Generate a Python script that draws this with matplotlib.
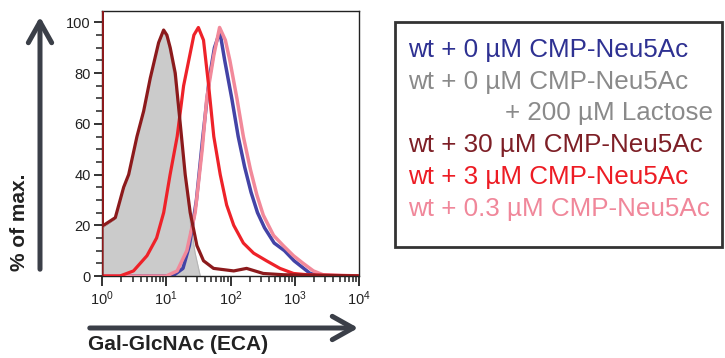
import matplotlib
matplotlib.use("Agg")
import matplotlib.pyplot as plt
import numpy as np
from matplotlib.patches import FancyArrowPatch, Rectangle
from matplotlib.ticker import MultipleLocator, LogLocator, NullFormatter

plt.rcParams["font.family"] = ["Liberation Sans", "DejaVu Sans"]

W, H = 725, 358

# ---- data: log10 intensity (x) vs % of max (y) ---------------------------
lac_x = [0.0, 0.03, 0.2, 0.34, 0.42, 0.54, 0.65, 0.75, 0.88, 0.96, 1.01,
         1.06, 1.14, 1.22, 1.30, 1.37, 1.45, 1.53]
lac_y = [19, 19, 22, 34, 40, 54, 64, 77, 91, 96, 94, 88, 76, 58, 38, 22, 9, 0]

wt0_x = [0.0, 0.9, 1.1, 1.26, 1.36, 1.47, 1.57, 1.67, 1.75, 1.83, 1.85,
         1.91, 2.02, 2.12, 2.22, 2.32, 2.42, 2.53, 2.68, 2.84, 2.99, 3.14,
         3.24, 3.45, 4.0]
wt0_y = [0, 0, 0, 3, 12, 30, 55, 78, 90, 96, 94, 85, 70, 55, 43, 33,
         25, 19, 13, 10, 6, 3, 1, 0, 0]

wt30_x = [0.0, 0.0, 0.0, 0.026, 0.207, 0.337, 0.415, 0.544, 0.648, 0.751,
          0.881, 0.959, 1.01, 1.062, 1.14, 1.218, 1.295, 1.373, 1.477,
          1.58, 1.736, 2.05, 2.25, 2.51, 2.82, 4.0]
wt30_y = [0, 150, 20, 20, 23, 35, 40, 55, 65, 78, 92, 97, 95, 90, 80, 60,
          40, 25, 12, 6, 3, 2, 3, 1, 0.5, 0]

wt3_x = [0.0, 0.28, 0.49, 0.70, 0.85, 0.96, 1.06, 1.17, 1.27, 1.35, 1.43,
         1.50, 1.58, 1.66, 1.74, 1.84, 1.94, 2.05, 2.20, 2.36, 2.56, 2.77,
         2.98, 3.19, 4.0]
wt3_y = [0, 0, 2, 8, 15, 25, 40, 55, 75, 85, 95, 98, 93, 75, 55, 40, 28,
         20, 13, 9, 6, 3, 1, 0.5, 0]

wt03_x = [0.0, 1.0, 1.17, 1.32, 1.45, 1.56, 1.63, 1.74, 1.83, 1.92, 1.99,
          2.10, 2.20, 2.31, 2.41, 2.51, 2.67, 2.82, 2.98, 3.13, 3.29, 3.44,
          4.0]
wt03_y = [0, 0, 2, 10, 25, 50, 70, 87, 98, 93, 85, 70, 55, 42, 32, 24,
          16, 12, 8, 5, 2, 0.5, 0]

labels = ["wt + 0 µM CMP-Neu5Ac",
          "wt + 0 µM CMP-Neu5Ac",
          "+ 200 µM Lactose",
          "wt + 30 µM CMP-Neu5Ac",
          "wt + 3 µM CMP-Neu5Ac",
          "wt + 0.3 µM CMP-Neu5Ac"]

C_BLUE, C_GRAY, C_DRED, C_RED, C_PINK = "#2e3192", "#8a8a8a", "#7d1f26", "#ed1c24", "#f0879a"
LINE = {"blue": "#4343a6", "dred": "#8c1a1c", "red": "#ee2229", "pink": "#f2899a"}
ARROW = "#3b3f48"
TICKC = "#222222"

fig = plt.figure(figsize=(W / 100, H / 100), dpi=100)

def fx(px):
    return px / W

def fy(py):
    return 1 - py / H

ax = fig.add_axes([fx(102), fy(276), fx(359) - fx(102), fy(11) - fy(276)])
ax.set_xscale("log")
ax.set_xlim(1, 1e4)
ax.set_ylim(0, 104.5)

def tx(v):
    return np.power(10.0, v)

ax.fill_between(tx(np.array(lac_x)), lac_y, 0, color="#cbcbcb", lw=0, zorder=1)
ax.plot(tx(np.array(lac_x)), lac_y, color="#b5b5b5", lw=0.8, zorder=1)
ax.plot(tx(np.array(wt0_x)), wt0_y, color=LINE["blue"], lw=2.5, zorder=2)
ax.plot(tx(np.array(wt03_x)), wt03_y, color=LINE["pink"], lw=2.5, zorder=3)
ax.plot(tx(np.array(wt3_x)), wt3_y, color=LINE["red"], lw=2.3, zorder=4)
ax.plot(tx(np.array(wt30_x)), wt30_y, color=LINE["dred"], lw=2.3, zorder=5)

for s in ax.spines.values():
    s.set_color("#222222")
    s.set_linewidth(1.0)

ax.yaxis.set_major_locator(MultipleLocator(20))
ax.yaxis.set_minor_locator(MultipleLocator(5))
ax.xaxis.set_major_locator(LogLocator(base=10, numticks=10))
ax.xaxis.set_minor_locator(LogLocator(base=10, subs=np.arange(2, 10), numticks=10))
ax.xaxis.set_minor_formatter(NullFormatter())
ax.tick_params(which="major", direction="out", length=6, width=1.3,
               color="#222222", labelcolor=TICKC, labelsize=10.5, pad=2)
ax.tick_params(which="minor", direction="out", length=4, width=1.1, color="#222222")
ax.tick_params(axis="x", which="major", length=7, pad=3)

# ---- axis arrows and labels -----------------------------------------------
arr_style = "->,head_length=0.75,head_width=0.42"
fig.add_artist(FancyArrowPatch((fx(40), fy(272)), (fx(40), fy(14)),
                               transform=fig.transFigure, arrowstyle=arr_style,
                               mutation_scale=20, lw=3.6, color=ARROW))
fig.add_artist(FancyArrowPatch((fx(87), fy(328)), (fx(361), fy(328)),
                               transform=fig.transFigure, arrowstyle=arr_style,
                               mutation_scale=20, lw=3.6, color=ARROW))
fig.text(fx(20), fy(222), "% of max.", rotation=90, ha="center", va="center",
         fontsize=15, fontweight="bold", color="#222222")
fig.text(fx(88), fy(345), "Gal-GlcNAc (ECA)", ha="left", va="center",
         fontsize=15, fontweight="bold", color="#222222")

# ---- legend box -----------------------------------------------------------
fig.add_artist(Rectangle((fx(395), fy(247)), fx(722) - fx(395), fy(22) - fy(247),
                         transform=fig.transFigure, facecolor="white",
                         edgecolor="#333333", lw=2.0))
colors = [C_BLUE, C_GRAY, C_GRAY, C_DRED, C_RED, C_PINK]
ys = [50, 82, 113, 145, 177, 209]
xs = [408, 408, 505, 408, 408, 408]
for lab, c, yy, xx in zip(labels, colors, ys, xs):
    fig.text(fx(xx), fy(yy), lab, ha="left", va="center", fontsize=18.7, color=c)

fig.savefig("out.png", dpi=100, facecolor="white")
